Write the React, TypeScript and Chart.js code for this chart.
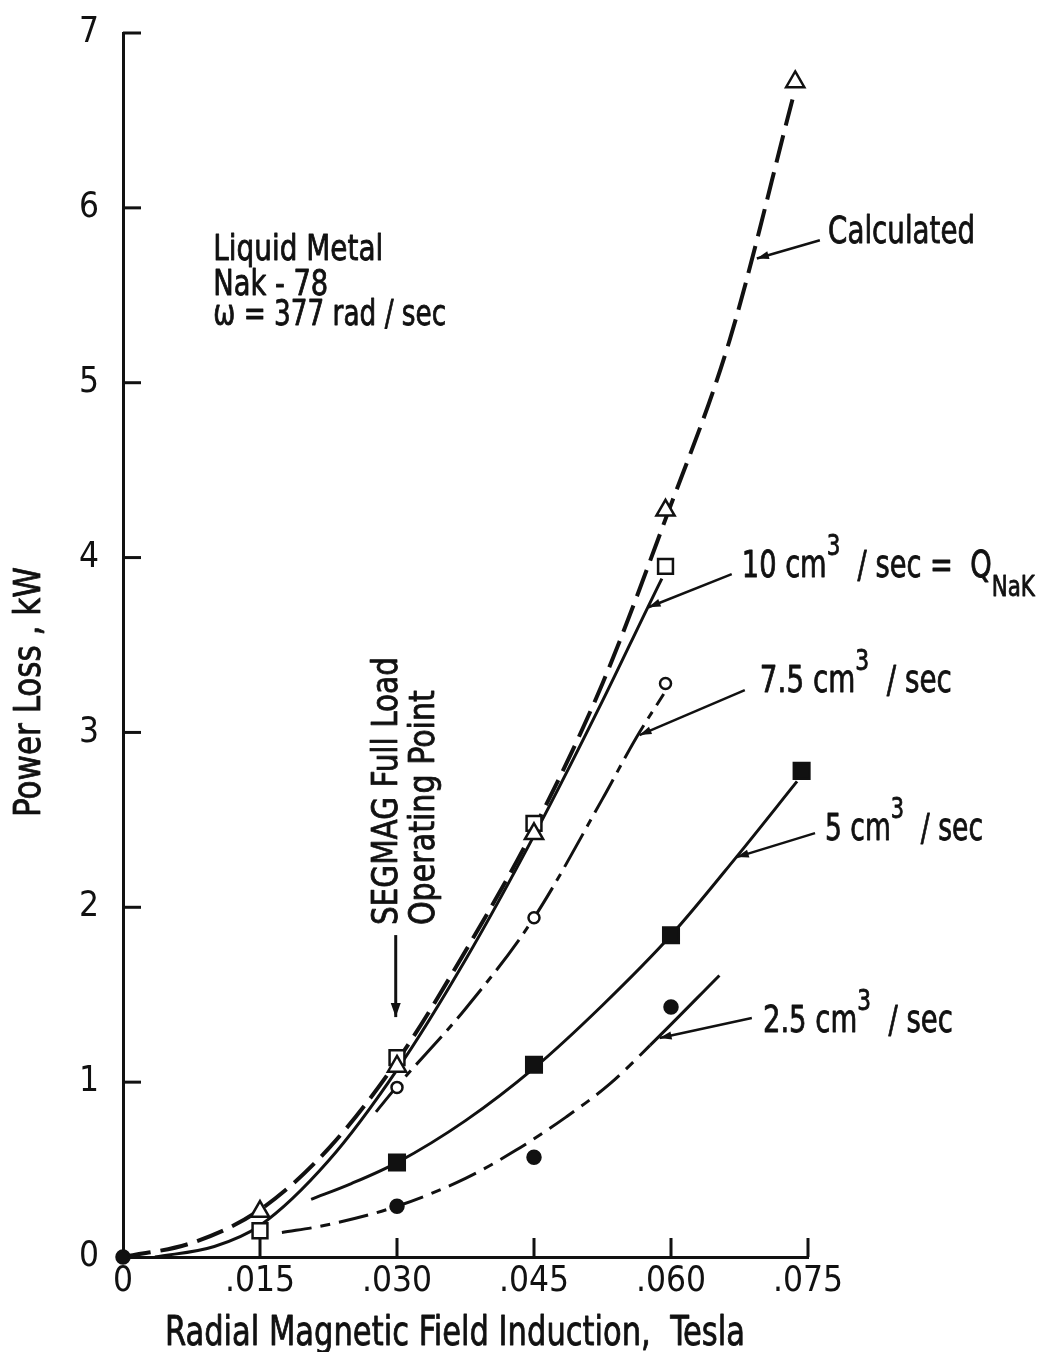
import React, { useEffect, useRef } from "react";
import { Chart, registerables } from "chart.js";

Chart.register(...registerables);

const FONT_FAMILY =
  "'Liberation Sans Narrow', 'DejaVu Sans Condensed', 'Liberation Sans', 'DejaVu Sans', sans-serif";
const INK = "#111";

// ---- axis ticks ----
const xTickValues = [0, 0.015, 0.03, 0.045, 0.06, 0.075];
const xTickLabels = ["0", ".015", ".030", ".045", ".060", ".075"];
const yTickValues = [0, 1, 2, 3, 4, 5, 6, 7];
const yTickLabels = ["0", "1", "2", "3", "4", "5", "6", "7"];

// ---- measured points (markers) ----
const calcPtsX = [0.015, 0.03, 0.045, 0.0594, 0.0736];
const calcPtsY = [0.26, 1.09, 2.42, 4.27, 6.72];
const q10PtsX = [0.015, 0.03, 0.045, 0.0594];
const q10PtsY = [0.15, 1.14, 2.48, 3.95];
const q75PtsX = [0.03, 0.045, 0.0594];
const q75PtsY = [0.97, 1.94, 3.28];
const q5PtsX = [0.03, 0.045, 0.06, 0.0743];
const q5PtsY = [0.54, 1.1, 1.84, 2.78];
const q25PtsX = [0, 0.03, 0.045, 0.06];
const q25PtsY = [0, 0.29, 0.57, 1.43];

// ---- faired curves ----
const calcCurveX = [0, 0.0075, 0.015, 0.0225, 0.03, 0.0375, 0.045, 0.0525, 0.0594, 0.0664, 0.0733];
const calcCurveY = [0, 0.08, 0.27, 0.62, 1.12, 1.75, 2.45, 3.28, 4.22, 5.24, 6.62];
const q10CurveX = [0.0035, 0.01, 0.015, 0.0225, 0.03, 0.0375, 0.045, 0.0525, 0.0575, 0.059];
const q10CurveY = [0, 0.06, 0.18, 0.55, 1.07, 1.7, 2.41, 3.18, 3.72, 3.88];
const q75CurveX = [0.0277, 0.0299, 0.0375, 0.045, 0.0525, 0.0562, 0.0592];
const q75CurveY = [0.83, 0.97, 1.42, 1.94, 2.62, 2.97, 3.22];
const q5CurveX = [0.0206, 0.025, 0.03, 0.0375, 0.045, 0.0525, 0.06, 0.0672, 0.0738];
const q5CurveY = [0.33, 0.42, 0.54, 0.78, 1.08, 1.44, 1.84, 2.29, 2.72];
const q25CurveX = [0.0174, 0.022, 0.03, 0.0375, 0.043, 0.0485, 0.0533, 0.0577, 0.0653];
const q25CurveY = [0.14, 0.18, 0.29, 0.45, 0.61, 0.8, 0.99, 1.21, 1.61];
const q25SolidFrom = 0.0577;

// ---- text ----
const xTitle = "Radial Magnetic Field Induction,  Tesla";
const yTitle = "Power Loss , kW";
const infoLines = ["Liquid Metal", "Nak - 78", "\u03c9 = 377 rad / sec"];
const segmagLines = ["SEGMAG Full Load", "Operating Point"];

type Part = { t: string; sup?: boolean; sub?: boolean };

const callouts: {
  tip: [number, number];
  tail: [number, number];
  at: [number, number];
  width: number;
  parts: Part[];
}[] = [
  { tip: [0.0694, 5.71], tail: [0.0763, 5.815], at: [0.0772, 5.8], width: 147, parts: [{ t: "Calculated" }] },
  {
    tip: [0.05754, 3.716],
    tail: [0.06665, 3.905],
    at: [0.06775, 3.888],
    width: 293,
    parts: [{ t: "10 cm" }, { t: "3", sup: true }, { t: "  / sec =  Q" }, { t: "NaK", sub: true }],
  },
  {
    tip: [0.05655, 2.985],
    tail: [0.06808, 3.242],
    at: [0.06973, 3.23],
    width: 192,
    parts: [{ t: "7.5 cm" }, { t: "3", sup: true }, { t: "  / sec" }],
  },
  {
    tip: [0.0672, 2.287],
    tail: [0.07577, 2.424],
    at: [0.07686, 2.384],
    width: 158,
    parts: [{ t: "5 cm" }, { t: "3", sup: true }, { t: "  / sec" }],
  },
  {
    tip: [0.05875, 1.252],
    tail: [0.06885, 1.367],
    at: [0.07006, 1.286],
    width: 190,
    parts: [{ t: "2.5 cm" }, { t: "3", sup: true }, { t: "  / sec" }],
  },
];

function zip(xs: number[], ys: number[]) {
  return xs.map((x, i) => ({ x, y: ys[i] }));
}

function drawParts(
  ctx: CanvasRenderingContext2D,
  parts: Part[],
  x: number,
  baseline: number,
  size: number,
  targetWidth: number,
  rotate = false
) {
  ctx.save();
  const fontFor = (p: Part) => `${p.sup || p.sub ? Math.round(size * 0.78) : size}px ${FONT_FAMILY}`;
  let total = 0;
  const widths = parts.map((p) => {
    ctx.font = fontFor(p);
    const w = ctx.measureText(p.t).width;
    total += w;
    return w;
  });
  const sx = targetWidth ? targetWidth / total : 1;
  ctx.translate(x, baseline);
  if (rotate) ctx.rotate(-Math.PI / 2);
  ctx.scale(sx, 1);
  ctx.fillStyle = INK;
  ctx.strokeStyle = INK;
  ctx.lineWidth = 0.8;
  ctx.lineJoin = "round";
  ctx.textAlign = "left";
  ctx.textBaseline = "alphabetic";
  let cx = 0;
  parts.forEach((p, i) => {
    ctx.font = fontFor(p);
    const dy = p.sup ? -size * 0.6 : p.sub ? size * 0.5 : 0;
    ctx.fillText(p.t, cx, dy);
    ctx.strokeText(p.t, cx, dy);
    cx += widths[i];
  });
  ctx.restore();
}

function arrow(
  ctx: CanvasRenderingContext2D,
  x1: number,
  y1: number,
  x2: number,
  y2: number,
  head = 12,
  w = 4
) {
  ctx.beginPath();
  ctx.moveTo(x1, y1);
  ctx.lineTo(x2, y2);
  ctx.stroke();
  const a = Math.atan2(y2 - y1, x2 - x1);
  ctx.beginPath();
  ctx.moveTo(x2, y2);
  ctx.lineTo(x2 - head * Math.cos(a) + w * Math.sin(a), y2 - head * Math.sin(a) - w * Math.cos(a));
  ctx.lineTo(x2 - head * Math.cos(a) - w * Math.sin(a), y2 - head * Math.sin(a) + w * Math.cos(a));
  ctx.closePath();
  ctx.fill();
}

const decorPlugin = {
  id: "decor",
  afterDraw(chart: any) {
    const { ctx, chartArea } = chart;
    const xs = chart.scales.x;
    const ys = chart.scales.y;
    const X = (v: number) => xs.getPixelForValue(v);
    const Y = (v: number) => ys.getPixelForValue(v);
    ctx.save();
    ctx.strokeStyle = INK;
    ctx.fillStyle = INK;
    ctx.lineCap = "butt";

    // inward tick marks
    ctx.lineWidth = 3;
    yTickValues.forEach((v) => {
      if (v === 0) return;
      ctx.beginPath();
      ctx.moveTo(chartArea.left, Y(v));
      ctx.lineTo(chartArea.left + 18, Y(v));
      ctx.stroke();
    });
    xTickValues.forEach((v) => {
      if (v === 0) return;
      ctx.beginPath();
      ctx.moveTo(X(v), chartArea.bottom);
      ctx.lineTo(X(v), chartArea.bottom - 19);
      ctx.stroke();
    });

    // callouts
    ctx.lineWidth = 2.5;
    callouts.forEach((c) => {
      arrow(ctx, X(c.tail[0]), Y(c.tail[1]), X(c.tip[0]), Y(c.tip[1]), 12, 4);
      drawParts(ctx, c.parts, X(c.at[0]), Y(c.at[1]), 37, c.width);
    });

    // info block
    const infoX = X(0.00988);
    const infoBase = [Y(5.7), Y(5.5), Y(5.33)];
    const infoW = [170, 115, 233];
    infoLines.forEach((t, i) => drawParts(ctx, [{ t }], infoX, infoBase[i], 35, infoW[i]));

    // SEGMAG operating point
    ctx.lineWidth = 3;
    arrow(ctx, X(0.02986), Y(1.841), X(0.02986), Y(1.372), 14, 5);
    drawParts(ctx, [{ t: segmagLines[0] }], X(0.02997), Y(1.898), 36, 268, true);
    drawParts(ctx, [{ t: segmagLines[1] }], X(0.0341), Y(1.898), 36, 235, true);

    // axis titles
    drawParts(ctx, [{ t: xTitle }], 165, 1345, 40, 580);
    drawParts(ctx, [{ t: yTitle }], 40, 817, 38, 250, true);
    ctx.restore();
  },
};

export default function App() {
  const ref = useRef<HTMLCanvasElement | null>(null);

  useEffect(() => {
    document.body.style.margin = "0";
    const canvas = ref.current;
    if (!canvas) return;

    const lineDs = (label: string, xs: number[], ys: number[], dash: number[], width = 3, extra: any = {}) => ({
      label,
      data: zip(xs, ys),
      showLine: true,
      pointRadius: 0,
      borderColor: INK,
      borderWidth: width,
      borderDash: dash,
      cubicInterpolationMode: "monotone",
      fill: false,
      order: 2,
      ...extra,
    });
    const markDs = (label: string, xs: number[], ys: number[], style: string, r: number, filled: boolean) => ({
      label,
      data: zip(xs, ys),
      showLine: false,
      pointStyle: style,
      pointRadius: r,
      pointBackgroundColor: filled ? INK : "#fff",
      pointBorderColor: INK,
      pointBorderWidth: 2.5,
      clip: false,
      order: 1,
    });

    const q25Dash = [30, 9, 10, 9];
    const chart = new Chart(canvas, {
      type: "scatter",
      data: {
        datasets: [
          lineDs("Calculated", calcCurveX, calcCurveY, [28, 10], 4),
          lineDs("10 cm3/sec", q10CurveX, q10CurveY, []),
          lineDs("7.5 cm3/sec", q75CurveX, q75CurveY, [38, 8, 8, 8]),
          lineDs("5 cm3/sec", q5CurveX, q5CurveY, []),
          lineDs("2.5 cm3/sec", q25CurveX, q25CurveY, q25Dash, 3, {
            segment: {
              borderDash: (c: any) => (c.p0.parsed.x >= q25SolidFrom - 1e-9 ? [] : q25Dash),
            },
          }),
          markDs("Calculated pts", calcPtsX, calcPtsY, "triangle", 10.5, false),
          markDs("10 pts", q10PtsX, q10PtsY, "rect", 10.5, false),
          markDs("7.5 pts", q75PtsX, q75PtsY, "circle", 5.5, false),
          markDs("5 pts", q5PtsX, q5PtsY, "rect", 11, true),
          markDs("2.5 pts", q25PtsX, q25PtsY, "circle", 6.5, true),
        ] as any,
      },
      options: {
        animation: false,
        responsive: false,
        devicePixelRatio: 1,
        layout: { padding: { left: 0, top: 33, right: 1043 - 808, bottom: 0 } },
        plugins: {
          legend: { display: false },
          tooltip: { enabled: false },
          title: { display: false },
        },
        scales: {
          x: {
            type: "linear",
            min: 0,
            max: 0.075,
            afterFit: (s: any) => {
              s.height = 95;
              s.paddingLeft = 0;
              s.paddingRight = 0;
            },
            afterBuildTicks: (s: any) => {
              s.ticks = xTickValues.map((v) => ({ value: v }));
            },
            ticks: {
              callback: (_v: any, i: number) => xTickLabels[i],
              font: { size: 35, family: FONT_FAMILY },
              color: INK,
              padding: 4,
              maxRotation: 0,
              autoSkip: false,
            },
            grid: { display: false, drawTicks: false },
            border: { display: true, color: INK, width: 3 },
          },
          y: {
            type: "linear",
            min: 0,
            max: 7,
            afterFit: (s: any) => {
              s.width = 123;
              s.paddingTop = 0;
              s.paddingBottom = 0;
            },
            afterBuildTicks: (s: any) => {
              s.ticks = yTickValues.map((v) => ({ value: v }));
            },
            ticks: {
              callback: (_v: any, i: number) => yTickLabels[i],
              font: { size: 35, family: FONT_FAMILY },
              color: INK,
              padding: 24,
              autoSkip: false,
            },
            grid: { display: false, drawTicks: false },
            border: { display: true, color: INK, width: 3 },
          },
        },
      } as any,
      plugins: [decorPlugin],
    });
    return () => chart.destroy();
  }, []);

  return (
    <canvas
      ref={ref}
      width={1043}
      height={1352}
      style={{ display: "block", width: 1043, height: 1352, background: "#fff" }}
    />
  );
}
